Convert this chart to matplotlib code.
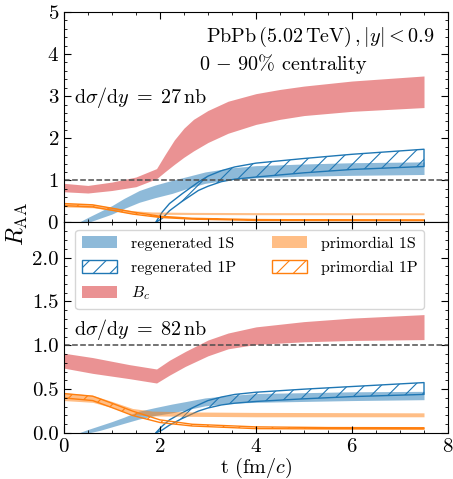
import numpy as np
import matplotlib
matplotlib.use('Agg')
import matplotlib.pyplot as plt
from matplotlib.ticker import MultipleLocator

plt.rcParams['font.family'] = 'serif'
plt.rcParams['font.serif'] = ['cmr10']
plt.rcParams['mathtext.fontset'] = 'cm'
plt.rcParams['axes.unicode_minus'] = False
plt.rcParams['axes.formatter.use_mathtext'] = True
plt.rcParams['hatch.linewidth'] = 0.8

# Bc band, dsigma/dy = 27 nb
t_bc_a = [0, 0.5, 1, 1.5, 1.93, 2.1, 2.3, 2.5, 2.7, 3.0, 3.42, 4, 4.5, 5, 6, 7, 7.5]
bc_hi_a = [0.93, 0.88, 0.96, 1.08, 1.28, 1.6, 1.96, 2.24, 2.45, 2.66, 2.88, 3.06, 3.16, 3.24, 3.36, 3.44, 3.48]
bc_lo_a = [0.73, 0.70, 0.76, 0.85, 1.04, 1.2, 1.38, 1.55, 1.7, 1.9, 2.12, 2.33, 2.45, 2.54, 2.64, 2.7, 2.73]

# Bc band, dsigma/dy = 82 nb
t_bc_b = [0, 0.6, 1.36, 1.93, 2.2, 2.53, 3.0, 3.42, 4, 5, 6, 7.5]
bc_hi_b = [0.91, 0.86, 0.78, 0.73, 0.83, 0.93, 1.06, 1.14, 1.21, 1.27, 1.31, 1.35]
bc_lo_b = [0.74, 0.68, 0.62, 0.57, 0.66, 0.76, 0.88, 0.96, 1.01, 1.04, 1.055, 1.065]

# regenerated 1S
t_r1s = [0.3, 0.5, 0.75, 1.0, 1.25, 1.57, 1.9, 2.25, 2.6, 2.94, 3.5, 4, 5, 6, 7.5]
r1s_hi_a = [0.0, 0.12, 0.26, 0.40, 0.57, 0.76, 0.89, 1.00, 1.10, 1.20, 1.30, 1.35, 1.39, 1.42, 1.44]
r1s_lo_a = [0.0, 0.0, 0.10, 0.20, 0.33, 0.48, 0.59, 0.69, 0.82, 0.93, 1.02, 1.06, 1.10, 1.12, 1.14]
r1s_hi_b = [0.0, 0.04, 0.085, 0.13, 0.18, 0.25, 0.29, 0.33, 0.365, 0.40, 0.43, 0.45, 0.46, 0.47, 0.475]
r1s_lo_b = [0.0, 0.0, 0.03, 0.07, 0.11, 0.16, 0.20, 0.23, 0.27, 0.31, 0.34, 0.35, 0.36, 0.37, 0.38]

# regenerated 1P
t_r1p = [1.91, 2.05, 2.2, 2.46, 2.8, 3.0, 3.28, 3.56, 4, 5, 6, 7.5]
r1p_hi_a = [0.0, 0.25, 0.45, 0.68, 0.96, 1.10, 1.23, 1.32, 1.41, 1.52, 1.62, 1.74]
r1p_lo_a = [0.0, 0.10, 0.28, 0.50, 0.76, 0.86, 0.97, 1.03, 1.08, 1.18, 1.26, 1.33]
r1p_hi_b = [0.0, 0.08, 0.15, 0.23, 0.32, 0.37, 0.41, 0.44, 0.465, 0.50, 0.53, 0.575]
r1p_lo_b = [0.0, 0.035, 0.09, 0.165, 0.25, 0.285, 0.32, 0.34, 0.36, 0.39, 0.415, 0.44]

# primordial states (same in both panels)
t_p1s = [0, 0.6, 1.0, 1.43, 1.84, 2.67, 4, 7.5]
p1s_hi = [0.46, 0.43, 0.36, 0.28, 0.25, 0.24, 0.235, 0.23]
p1s_lo = [0.37, 0.35, 0.29, 0.21, 0.195, 0.19, 0.185, 0.185]
t_p1p = [0, 0.6, 1.0, 1.43, 2.0, 2.67, 4, 5.5, 7.5]
p1p_hi = [0.45, 0.42, 0.34, 0.25, 0.15, 0.10, 0.07, 0.062, 0.06]
p1p_lo = [0.40, 0.37, 0.29, 0.20, 0.12, 0.08, 0.05, 0.047, 0.045]

fig = plt.figure(figsize=(4.53, 4.79), dpi=100)
ax1 = fig.add_axes([0.141, 0.5355, 0.848, 0.4395])
ax2 = fig.add_axes([0.141, 0.096, 0.848, 0.4395], sharex=ax1)


def band(ax, t, lo, hi, color, hatched=False, label=None):
    if hatched:
        ax.fill_between(t, lo, hi, facecolor='none', edgecolor=color,
                        hatch='//', lw=1.0, label=label)
    else:
        ax.fill_between(t, lo, hi, color=color, alpha=0.5, lw=0, label=label)


panels = [
    (ax1, bc_lo_a, bc_hi_a, t_bc_a, r1s_lo_a, r1s_hi_a, r1p_lo_a, r1p_hi_a),
    (ax2, bc_lo_b, bc_hi_b, t_bc_b, r1s_lo_b, r1s_hi_b, r1p_lo_b, r1p_hi_b),
]
for ax, blo, bhi, tb, slo, shi, plo, phi in panels:
    band(ax, t_r1s, slo, shi, 'C0', label='regenerated 1S')
    band(ax, t_r1p, plo, phi, 'C0', hatched=True, label='regenerated 1P')
    band(ax, tb, blo, bhi, 'C3', label=r'$B_c$')
    band(ax, t_p1s, p1s_lo, p1s_hi, 'C1', label='primordial 1S')
    band(ax, t_p1p, p1p_lo, p1p_hi, 'C1', hatched=True, label='primordial 1P')
    ax.axhline(1.0, color='0.3', ls='--', lw=1.1)
    ax.tick_params(which='both', direction='in', top=True, right=True, labelsize=15)
    ax.tick_params(which='major', length=5)
    ax.tick_params(which='minor', length=2.5)
    ax.xaxis.set_minor_locator(MultipleLocator(0.5))

ax1.set_xlim(0, 8)
ax1.set_ylim(0, 5)
ax1.yaxis.set_major_locator(MultipleLocator(1))
ax1.yaxis.set_minor_locator(MultipleLocator(0.2))
ax1.tick_params(labelbottom=False)

ax2.set_ylim(0, 2.4)
ax2.yaxis.set_minor_locator(MultipleLocator(0.1))
ax2.set_xticks([0, 2, 4, 6, 8])
ax2.set_yticks([0.0, 0.5, 1.0, 1.5, 2.0])
ax2.set_yticklabels(['0.0', '0.5', '1.0', '1.5', '2.0'])
ax2.set_xlabel(r't (fm/$c$)', fontsize=14.5, labelpad=0)

ax1.text(0.37, 0.88, r'$\mathrm{PbPb}\,(5.02\,\mathrm{TeV})\,,|y|<0.9$',
         transform=ax1.transAxes, fontsize=14.5, va='center')
ax1.text(0.352, 0.755, r'$0\,-\,90\%$ centrality', transform=ax1.transAxes,
         fontsize=14.5, va='center')
ax1.text(0.026, 0.595, r'$\mathrm{d}\sigma/\mathrm{d}y\;=\;27\,\mathrm{nb}$',
         transform=ax1.transAxes, fontsize=14.5, va='center')
ax2.text(0.026, 0.49, r'$\mathrm{d}\sigma/\mathrm{d}y\;=\;82\,\mathrm{nb}$',
         transform=ax2.transAxes, fontsize=14.5, va='center')

fig.text(0.038, 0.532, r'$R_{\mathrm{AA}}$', rotation=90, fontsize=17,
         va='center', ha='center')

ax2.legend(ncol=2, loc='upper left', fontsize=11.5, handlelength=2.2,
           handleheight=0.8, handletextpad=0.9, columnspacing=2.2,
           labelspacing=0.6, bbox_to_anchor=(0.03, 0.965), borderaxespad=0)

fig.savefig('out.png', dpi=100)
